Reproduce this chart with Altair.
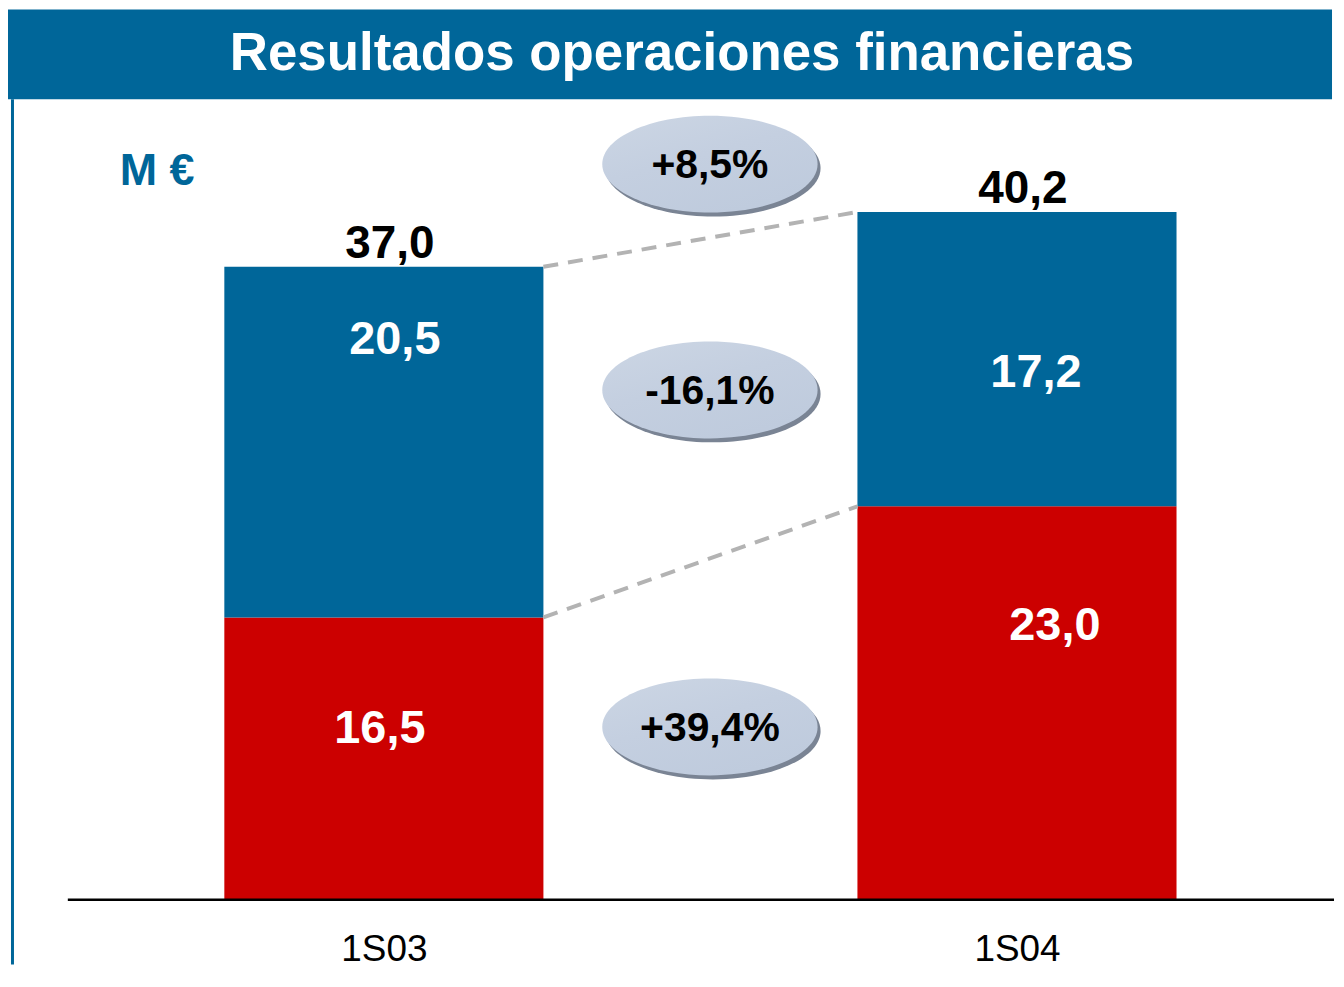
import json
import altair as alt
import pandas as pd

# ---------------- data ----------------
periods = ["1S03", "1S04"]
period_pos = [0, 1]
lower_values = [16.5, 23.0]          # red segment
upper_values = [20.5, 17.2]          # blue segment
totals = [37.0, 40.2]
total_labels = ["37,0", "40,2"]
lower_labels = ["16,5", "23,0"]
upper_labels = ["20,5", "17,2"]
change_labels = ["+8,5%", "-16,1%", "+39,4%"]

# ---------------- layout / style ----------------
W, H = 1328, 900
FONT = "Liberation Sans"
BLUE = "#006699"
RED = "#CC0000"
BAR_HALF = 0.252
STEP_PX = 635.0
upper_label_y = [32.7, 30.8]
lower_label_y = [10.0, 16.0]
upper_label_dx = [11, 19]     # pixel shift of the label from the bar centre
lower_label_dx = [-4, 38]
change_x = 0.515
change_y = [43.0, 29.8, 10.1]

x_scale = alt.Scale(domain=[-0.5937, 1.4976], nice=False, zero=False)
y_scale = alt.Scale(domain=[-0.408, 52.04], nice=False, zero=False)
x_axis = alt.Axis(
    values=period_pos,
    labelExpr=f"{json.dumps(periods)}[datum.value]",
    domain=False, ticks=False, grid=False, title=None,
    labelFont=FONT, labelFontSize=37, labelColor="#000000",
    labelPadding=25, labelOverlap=False, labelFlush=False,
)

# ---------------- tables ----------------
bar_rows = []
for p, pos, lo, up in zip(periods, period_pos, lower_values, upper_values):
    bar_rows.append({"period": p, "x": pos - BAR_HALF, "x2": pos + BAR_HALF,
                     "y": 0, "y2": lo, "seg": "lower"})
    bar_rows.append({"period": p, "x": pos - BAR_HALF, "x2": pos + BAR_HALF,
                     "y": lo, "y2": lo + up, "seg": "upper"})
bars_df = pd.DataFrame(bar_rows)

conn_df = pd.DataFrame([
    {"x": period_pos[0] + BAR_HALF, "x2": period_pos[1] - BAR_HALF,
     "y": totals[0], "y2": totals[1]},
    {"x": period_pos[0] + BAR_HALF, "x2": period_pos[1] - BAR_HALF,
     "y": lower_values[0], "y2": lower_values[1]},
])

tot_df = pd.DataFrame({"x": period_pos, "y": totals, "label": total_labels})
seg_df = pd.DataFrame({
    "x": [p + d / STEP_PX for p, d in zip(period_pos + period_pos,
                                          upper_label_dx + lower_label_dx)],
    "y": upper_label_y + lower_label_y,
    "label": upper_labels + lower_labels,
})
chg_df = pd.DataFrame({"x": [change_x] * 3, "y": change_y, "label": change_labels})

X = lambda f="x": alt.X(f"{f}:Q", scale=x_scale, axis=x_axis)
Y = lambda f="y": alt.Y(f"{f}:Q", scale=y_scale, axis=None)

ELLIPSE = ("M-1,0 C-1,-0.2485 -0.5523,-0.45 0,-0.45 C0.5523,-0.45 1,-0.2485 1,0 "
           "C1,0.2485 0.5523,0.45 0,0.45 C-0.5523,0.45 -1,0.2485 -1,0 Z")
ELL_SIZE = 216 * 216

# ---------------- layers ----------------
banner = alt.Chart(pd.DataFrame({"t": [0]})).mark_rect(color=BLUE).encode(
    x=alt.value(0), x2=alt.value(W), y=alt.value(0), y2=alt.value(90))
left_line = alt.Chart(pd.DataFrame({"t": [0]})).mark_rule(color=BLUE, strokeWidth=3).encode(
    x=alt.value(4.5), y=alt.value(90), y2=alt.value(958))
title = alt.Chart(pd.DataFrame({"t": ["Resultados operaciones financieras"]})).mark_text(
    font=FONT, fontSize=53, fontWeight="bold", color="white", align="center", baseline="middle"
).encode(text="t:N", x=alt.value(676), y=alt.value(45))
unit = alt.Chart(pd.DataFrame({"t": ["M €"]})).mark_text(
    font=FONT, fontSize=45, fontWeight="bold", color=BLUE, align="left", baseline="middle"
).encode(text="t:N", x=alt.value(112), y=alt.value(162))

bars = alt.Chart(bars_df).mark_rect().encode(
    x=X("x"), x2="x2:Q", y=Y("y"), y2="y2:Q",
    color=alt.Color("seg:N", scale=alt.Scale(domain=["lower", "upper"], range=[RED, BLUE]),
                    legend=None),
)

baseline = alt.Chart(pd.DataFrame({"y": [0]})).mark_rule(color="#000000", strokeWidth=2.5).encode(
    y=Y("y"), x=alt.value(60), x2=alt.value(1330))

connectors = alt.Chart(conn_df).mark_rule(
    color="#b3b3b3", strokeWidth=4, strokeDash=[15, 10]
).encode(x=X("x"), x2="x2:Q", y=Y("y"), y2="y2:Q")

tot_text = alt.Chart(tot_df).mark_text(
    font=FONT, fontSize=46, fontWeight="bold", color="#000000",
    baseline="alphabetic", align="center", dy=-9, dx=6
).encode(x=X("x"), y=Y("y"), text="label:N")

seg_text = alt.Chart(seg_df).mark_text(
    font=FONT, fontSize=47, fontWeight="bold", color="white",
    baseline="middle", align="center"
).encode(x=X("x"), y=Y("y"), text="label:N")

shadow = alt.Chart(chg_df).mark_point(
    shape=ELLIPSE, filled=True, size=ELL_SIZE, color="#7a8494", opacity=1,
    xOffset=3, yOffset=4
).encode(x=X("x"), y=Y("y"))
ellipse = alt.Chart(chg_df).mark_point(
    shape=ELLIPSE, filled=True, size=ELL_SIZE, opacity=1,
    fill=alt.Gradient(gradient="linear", x1=0, y1=0, x2=0.6, y2=1,
                      stops=[alt.GradientStop(color="#ccd6e4", offset=0),
                             alt.GradientStop(color="#c4cfe0", offset=0.5),
                             alt.GradientStop(color="#bfcbdd", offset=1)])
).encode(x=X("x"), y=Y("y"))
chg_text = alt.Chart(chg_df).mark_text(
    font=FONT, fontSize=41, fontWeight="bold", color="#000000",
    baseline="middle", align="center", dy=2
).encode(x=X("x"), y=Y("y"), text="label:N")

chart = alt.layer(
    banner, left_line, title, unit, bars, baseline, connectors,
    tot_text, seg_text, shadow, ellipse, chg_text
).properties(width=W, height=H, padding=0, background="white").configure_view(stroke=None)

chart.save("out.html", embed_options={"renderer": "svg", "actions": False})
